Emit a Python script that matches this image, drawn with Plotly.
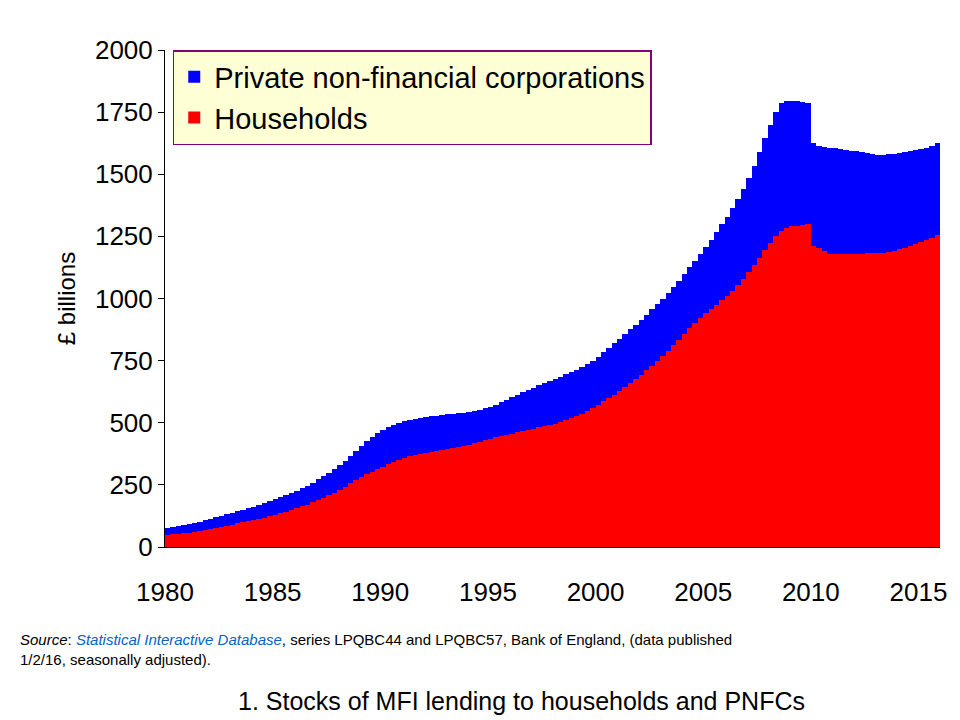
import plotly.graph_objects as go

years = list(range(1980, 2016))
households = [
50,52,54,56, 58,61,64,68, 72,76,80,85, 90,95,99,104, 108,113,118,124,
130,136,142,149, 156,163,171,180, 190,199,209,219, 230,243,256,268, 280,292,303,313,
323,333,343,352, 360,366,371,376, 380,384,387,391, 395,399,403,407, 412,418,423,429,
435,441,446,451, 456,461,466,471, 476,482,487,492, 497,503,510,518, 527,537,548,560,
573,586,599,613, 628,643,658,675, 693,711,730,750, 770,790,812,834, 857,880,902,922,
940,958,975,992, 1010,1030,1055,1080, 1105,1135,1165,1195, 1225,1250,1270,1285, 1290,1293,1297,1300,
1210,1205,1190,1180, 1178,1178,1180,1180, 1180,1181,1182,1183, 1183,1185,1188,1192, 1198,1205,1212,1220,
1228,1236,1245,1255]
total = [
75,80,84,88, 92,97,102,108, 114,120,126,132, 138,144,150,156, 162,169,176,184,
192,200,208,217, 226,236,247,259, 272,285,298,312, 328,346,365,385, 405,425,443,458,
470,482,492,500, 507,512,516,520, 523,526,529,532, 534,536,538,540, 543,547,552,558,
565,573,582,592, 602,612,622,632, 641,650,659,668, 677,686,695,704, 714,725,737,750,
766,783,801,820, 838,857,876,895, 915,935,956,978, 1000,1023,1047,1072, 1098,1125,1152,1180,
1208,1237,1267,1298, 1330,1365,1400,1440, 1485,1535,1590,1645, 1700,1750,1785,1795, 1795,1793,1790,1785,
1625,1615,1610,1605, 1605,1600,1598,1595, 1593,1590,1585,1580, 1578,1577,1580,1583, 1585,1588,1592,1597,
1600,1605,1612,1625]
pnfc = [t - h for t, h in zip(total, households)]
quarters = [y + q * 0.25 + 0.125 for y in years for q in range(4)]
tick_years = [1980, 1985, 1990, 1995, 2000, 2005, 2010, 2015]

fig = go.Figure()
fig.add_bar(x=quarters, y=households, name="Households", marker=dict(color="#FF0000", line=dict(width=0)), width=0.25)
fig.add_bar(x=quarters, y=pnfc, name="Private non-financial corporations", marker=dict(color="#0000FF", line=dict(width=0)), width=0.25)

fig.update_layout(
    barmode="stack", bargap=0, width=960, height=720,
    paper_bgcolor="white", plot_bgcolor="white",
    margin=dict(l=157, r=28, t=42, b=181, autoexpand=False),
    font=dict(family="Liberation Sans, Arial", color="black"),
    showlegend=True,
    legend=dict(x=0.01, y=1.0, xanchor="left", yanchor="top", traceorder="reversed",
                bgcolor="#FFFFD6", bordercolor="#800080", borderwidth=1.5,
                font=dict(size=29), itemwidth=30, tracegroupgap=4),
    xaxis=dict(range=[1980, 2016], tickvals=tick_years, ticktext=[str(y) for y in tick_years],
               tickfont=dict(size=26), showline=True, linecolor="black", ticks="outside",
               ticklen=22, tickcolor="rgba(0,0,0,0)", automargin=False,
               showgrid=False, zeroline=False),
    yaxis=dict(range=[0, 2000], tickvals=list(range(0, 2001, 250)), tickfont=dict(size=26),
               showline=True, linecolor="black", ticks="outside", ticklen=6, tickcolor="black",
               showgrid=False, zeroline=False, automargin=False,
               title=dict(text="£ billions", font=dict(size=24), standoff=12)),
)
fig.add_annotation(x=-0.19, y=-0.165, xref="paper", yref="paper", xanchor="left", yanchor="top",
    align="left", showarrow=False, font=dict(size=15, family="Liberation Sans, Arial"),
    text="<i>Source</i>: <a href='https://www.bankofengland.co.uk' style='color:#0563C1'><i>Statistical Interactive Database</i></a>, series LPQBC44 and LPQBC57, Bank of England, (data published<br>1/2/16, seasonally adjusted).")
fig.add_annotation(x=0.46, y=-0.31, xref="paper", yref="paper", xanchor="center", yanchor="middle",
    showarrow=False, font=dict(size=25, family="Liberation Sans, Arial"),
    text="1. Stocks of MFI lending to households and PNFCs")
fig.write_html("out.html")
